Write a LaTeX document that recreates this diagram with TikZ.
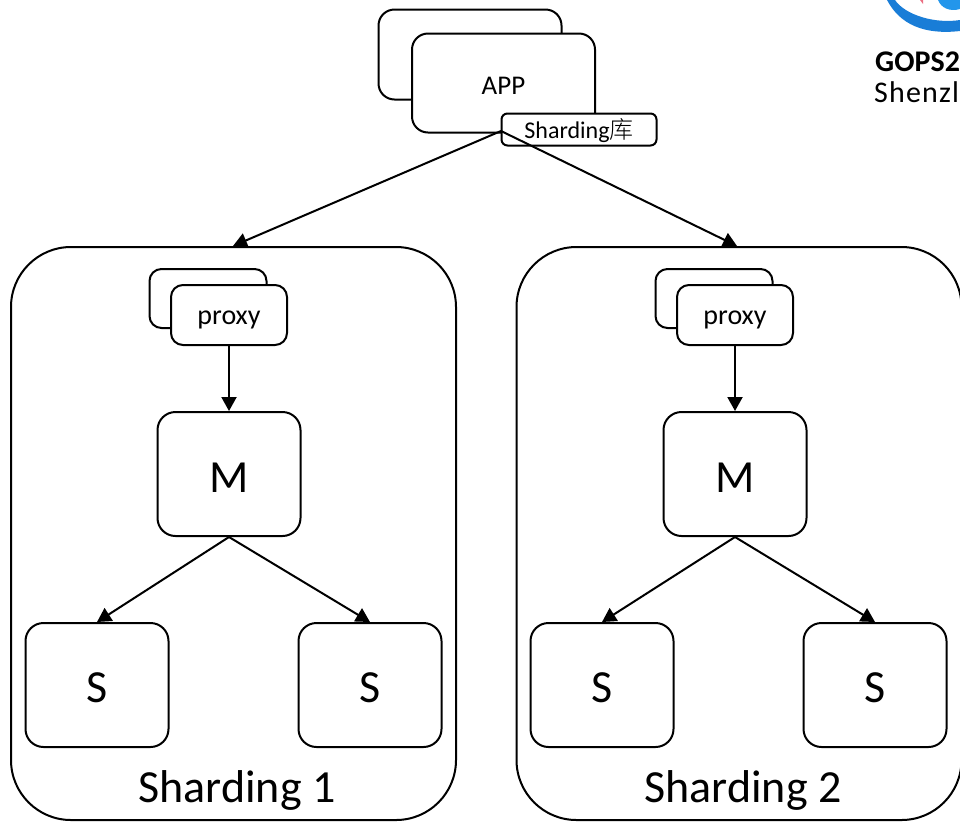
\documentclass[tikz,border=0pt]{standalone}
\usepackage{fontspec}
\setmainfont{Carlito}
\newfontfamily\cjk{Noto Sans CJK SC Light}
\usetikzlibrary{arrows.meta}
\definecolor{logoblue}{RGB}{35,150,235}
\definecolor{logodark}{RGB}{25,125,215}
\definecolor{logored}{RGB}{235,110,130}
\tikzset{
  x=1pt,y=-1pt,
  box/.style={draw=black,line width=2pt,fill=white,rounded corners=#1,inner sep=0pt},
  box/.default=16pt,
  link/.style={draw=black,line width=2pt,-{Triangle[length=14pt,width=15pt]}},
}
\newcommand{\rbox}[7][]{\node[box=#7,minimum width=#4pt,minimum height=#5pt,#1] (#2) at (#3) {#6};}
\newcommand{\lowered}[2]{\raisebox{-#1pt}[\height][\depth]{#2}}
\begin{document}
\begin{tikzpicture}
\useasboundingbox (0,0) rectangle (960,823);
% logo
\fill[logodark] (887,0) .. controls (900,25) and (925,35) .. (960,31) -- (960,20) .. controls (935,24) and (905,15) .. (895,0) -- cycle;
\fill[logoblue] (938,0) .. controls (941,8) and (950,12) .. (960,9) -- (960,0) -- cycle;
\fill[logored] (920,0) -- (923,0) -- (923,4) -- cycle;
\node[anchor=west,font=\bfseries\fontsize{30}{34}\selectfont,inner sep=0pt] (logoa) at (875,62) {GOPS2};
\node[anchor=west,font=\fontsize{30}{34}\selectfont\addfontfeature{LetterSpace=4},inner sep=0pt] (logob) at (874,92) {Shenzl};
% App
\rbox{app0}{470,54.5}{183}{90}{}{16pt}
\rbox{app}{503.5,83}{183}{99}{\fontsize{27}{30}\selectfont\lowered{3}{APP}}{16pt}
\rbox{lib}{579,129.5}{155}{32}{\fontsize{24}{28}\selectfont\lowered{1}{Sharding{\cjk 库}}}{6pt}
\coordinate (fork) at (501,131);
% Shard frames
\rbox{s1}{233.5,533.5}{445}{573}{}{60pt}
\rbox{s2}{739,533.5}{445}{573}{}{60pt}
\node[font=\fontsize{46}{50}\selectfont,inner sep=0pt] (l1) at (237,790) {Sharding 1};
\node[font=\fontsize{46}{50}\selectfont,inner sep=0pt] (l2) at (743,790) {Sharding 2};
% shard 1
\rbox{p1b}{208,298.5}{117}{59}{}{12pt}
\rbox{p1}{229,315}{116}{60}{\fontsize{28}{32}\selectfont\lowered{4.5}{proxy}}{12pt}
\rbox{m1}{229,474}{143}{124}{\fontsize{46}{50}\selectfont\lowered{4}{M}}{18pt}
\rbox{sa1}{97,685}{143}{124}{\fontsize{46}{50}\selectfont\lowered{3}{S}}{18pt}
\rbox{sb1}{370,685}{143}{124}{\fontsize{46}{50}\selectfont\lowered{3}{S}}{18pt}
% shard 2
\rbox{p2b}{714,298.5}{117}{59}{}{12pt}
\rbox{p2}{735,315}{116}{60}{\fontsize{28}{32}\selectfont\lowered{4.5}{proxy}}{12pt}
\rbox{m2}{735,474}{143}{124}{\fontsize{46}{50}\selectfont\lowered{4}{M}}{18pt}
\rbox{sa2}{602,685}{143}{124}{\fontsize{46}{50}\selectfont\lowered{3}{S}}{18pt}
\rbox{sb2}{875,685}{143}{124}{\fontsize{46}{50}\selectfont\lowered{3}{S}}{18pt}
% connectors
\coordinate (t1) at (233,246);
\coordinate (t2) at (737,246);
\draw[link] (fork) -- (t1);
\draw[link] (fork) -- (t2);
\draw[link] (p1) -- (m1);
\draw[link] (p2) -- (m2);
\draw[link] (m1.south) -- (sa1.north);
\draw[link] (m1.south) -- (sb1.north);
\draw[link] (m2.south) -- (sa2.north);
\draw[link] (m2.south) -- (sb2.north);
\end{tikzpicture}
\end{document}
